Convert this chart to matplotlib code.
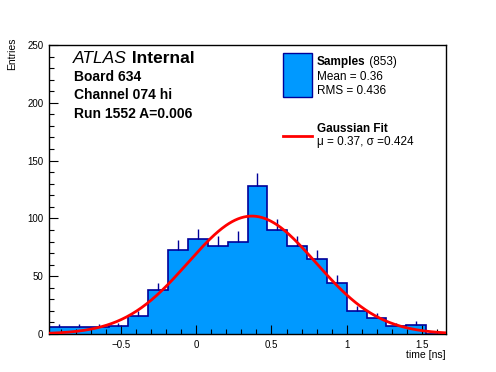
import numpy as np
import matplotlib
matplotlib.use("Agg")
import matplotlib.pyplot as plt
from matplotlib.ticker import MultipleLocator

plt.rcParams["font.family"] = ["Liberation Sans", "DejaVu Sans"]

# histogram: 20 bins over the plotted time range (ns)
X_MIN, X_MAX = -0.979, 1.660
counts = [6, 6, 6, 7, 16, 38, 73, 82, 76, 80,
          128, 90, 76, 65, 44, 20, 14, 7, 8, 0]

# gaussian fit
FIT_AMP, FIT_MU, FIT_SIGMA = 102.0, 0.37, 0.424

W, H = 496, 372


def fx(px):
    return px / W


def fy(py):
    return 1 - py / H


def text_after(t, s, **kw):
    # put s right after text t on the same baseline
    fig.canvas.draw()
    bb = t.get_window_extent()
    x = bb.x1 / fig.bbox.width
    return fig.text(x, t.get_position()[1], s, va="baseline", **kw)


fig = plt.figure(figsize=(W / 100, H / 100), dpi=100)
ax = fig.add_axes([fx(49), fy(334), fx(446) - fx(49), fy(45) - fy(334)])

edges = np.linspace(X_MIN, X_MAX, len(counts) + 1)
centers = 0.5 * (edges[:-1] + edges[1:])
counts = np.asarray(counts, dtype=float)

ax.stairs(counts, edges, fill=True, color="#0099ff", zorder=1)
ax.stairs(counts, edges, color="#000099", lw=1.2, zorder=2)
# error bars (upper half visible above fill)
ax.vlines(centers, counts, counts + np.sqrt(counts), color="#000099", lw=1, zorder=2)

xf = np.linspace(X_MIN, X_MAX, 400)
yf = FIT_AMP * np.exp(-0.5 * ((xf - FIT_MU) / FIT_SIGMA) ** 2)
ax.plot(xf, yf, color="#ff0000", lw=2, zorder=3)

ax.set_xlim(X_MIN, X_MAX)
ax.set_ylim(0, 250)
ax.xaxis.set_major_locator(MultipleLocator(0.5))
ax.xaxis.set_minor_locator(MultipleLocator(0.1))
ax.yaxis.set_major_locator(MultipleLocator(50))
ax.yaxis.set_minor_locator(MultipleLocator(10))
ax.xaxis.set_major_formatter(matplotlib.ticker.FuncFormatter(
    lambda v, p: ("\u2212" if v < 0 else "") + f"{abs(v):g}"))
ax.tick_params(which="both", direction="in", top=False, right=False,
               labelsize=7, width=0.8, color="black")
ax.tick_params(which="major", length=6.5, pad=4)
ax.tick_params(which="minor", length=3.3)
for s in ax.spines.values():
    s.set_linewidth(1)

fig.text(fx(12), fy(38), "Entries", rotation=90, ha="center", va="top", fontsize=7.5)
fig.text(fx(446), fy(355), "time [ns]", ha="right", va="center", fontsize=7.5)

# ATLAS label block
t = fig.text(fx(73), fy(63), "ATLAS", style="italic", fontsize=12.5, va="baseline")
text_after(t, " Internal", weight="bold", fontsize=12.5)
fig.text(fx(73.5), fy(81), "Board 634", weight="bold", fontsize=10, va="baseline")
fig.text(fx(73.5), fy(99), "Channel 074 hi", weight="bold", fontsize=10, va="baseline")
fig.text(fx(73.5), fy(117.5), "Run 1552 A=0.006", weight="bold", fontsize=10, va="baseline")

# legend
fig.patches.append(plt.Rectangle((fx(283), fy(97)), fx(312) - fx(283), fy(53) - fy(97),
                                 transform=fig.transFigure, facecolor="#0099ff",
                                 edgecolor="#000099", lw=1))
t = fig.text(fx(317), fy(65), "Samples", weight="bold", fontsize=8.5, va="baseline")
text_after(t, " (853)", fontsize=8.5)
fig.text(fx(317), fy(79.5), "Mean = 0.36", fontsize=8.5, va="baseline")
fig.text(fx(317), fy(93.5), "RMS = 0.436", fontsize=8.5, va="baseline")
fig.lines.append(plt.Line2D([fx(283), fx(312)], [fy(136), fy(136)],
                            transform=fig.transFigure, color="#ff0000", lw=2))
fig.text(fx(317), fy(132.5), "Gaussian Fit", weight="bold", fontsize=8.5, va="baseline")
fig.text(fx(317), fy(144.5), "\u03bc = 0.37, \u03c3 =0.424", fontsize=8.5, va="baseline")

fig.savefig("out.png", dpi=100)
